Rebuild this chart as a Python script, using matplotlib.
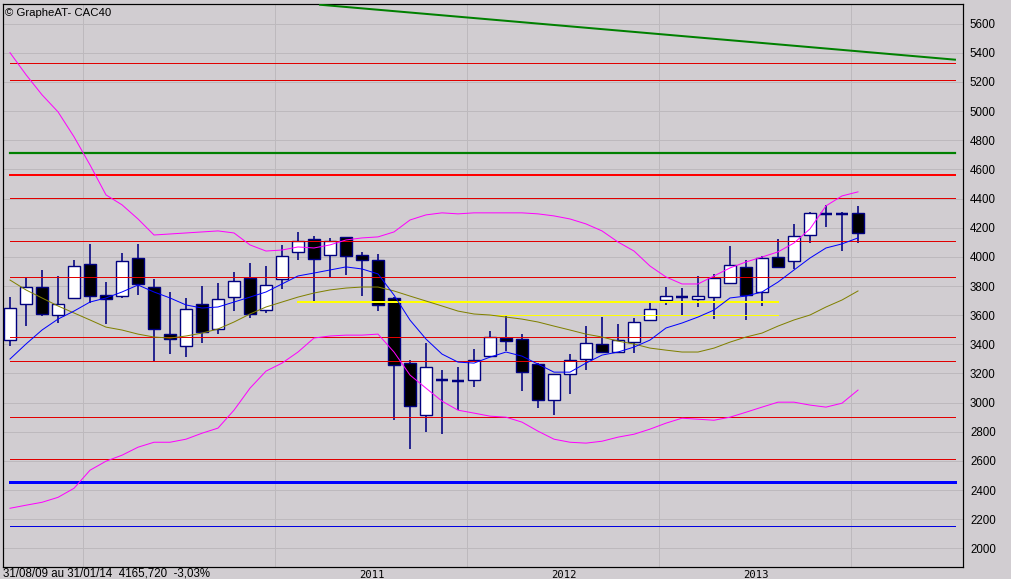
import matplotlib
matplotlib.use("Agg")
import matplotlib.pyplot as plt
import numpy as np

# ---------------- data (monthly CAC40, Aug 2009 -> Jan 2014) ----------------
months = [f"{y}-{m:02d}" for y in range(2009, 2015) for m in range(1, 13)]
months = months[months.index("2009-08"):months.index("2014-01") + 1]

opens = [3427, 3674, 3795, 3598, 3715, 3949, 3737, 3734, 3990, 3791, 3473, 3386, 3674, 3502,
         3722, 3855, 3633, 3846, 4031, 4121, 4011, 4134, 4011, 3976, 3715, 3269, 2912, 3158,
         3152, 3152, 3317, 3441, 3434, 3262, 3021, 3193, 3296, 3399, 3344, 3413, 3564, 3702,
         3729, 3708, 3727, 3823, 3928, 3757, 3997, 3970, 4148, 4299, 4292, 4304]
highs = [3727, 3857, 3910, 3866, 3979, 4089, 3828, 4027, 4089, 3848, 3757, 3718, 3800, 3818,
         3896, 3958, 3937, 4082, 4171, 4144, 4128, 4139, 4035, 4020, 3727, 3292, 3408, 3223,
         3241, 3367, 3491, 3594, 3468, 3273, 3193, 3333, 3525, 3587, 3539, 3578, 3686, 3793,
         3786, 3866, 3880, 4075, 3979, 4006, 4123, 4226, 4308, 4359, 4306, 4352]
lows = [3390, 3528, 3596, 3544, 3708, 3686, 3539, 3720, 3738, 3287, 3335, 3315, 3408, 3473,
        3631, 3583, 3617, 3782, 3979, 3686, 3862, 3878, 3734, 3626, 2884, 2685, 2799, 2786,
        2948, 3108, 3317, 3356, 3081, 2964, 2916, 3060, 3225, 3349, 3344, 3337, 3560, 3672,
        3601, 3658, 3576, 3816, 3569, 3665, 3928, 3915, 4098, 4208, 4043, 4093]
closes = [3647, 3791, 3605, 3674, 3935, 3734, 3708, 3970, 3811, 3502, 3438, 3640, 3486, 3708,
          3832, 3605, 3805, 4004, 4107, 3983, 4107, 4004, 3979, 3667, 3255, 2980, 3241, 3152,
          3148, 3294, 3450, 3420, 3207, 3015, 3193, 3289, 3406, 3349, 3427, 3550, 3640, 3729,
          3720, 3729, 3855, 3942, 3736, 3990, 3928, 4141, 4299, 4295, 4296, 4162]

ma_short = [3299, 3402, 3498, 3573, 3628, 3690, 3718, 3759, 3807, 3759, 3718, 3670, 3649, 3656,
            3690, 3724, 3759, 3814, 3869, 3889, 3910, 3931, 3917, 3883, 3738, 3566, 3436, 3333,
            3278, 3271, 3312, 3347, 3319, 3264, 3209, 3209, 3271, 3326, 3347, 3381, 3429, 3512,
            3546, 3587, 3635, 3718, 3731, 3759, 3827, 3910, 3992, 4061, 4089, 4130]
ma_long = [3841, 3773, 3718, 3663, 3615, 3567, 3518, 3498, 3470, 3450, 3443, 3457, 3477, 3505,
           3553, 3608, 3656, 3690, 3724, 3752, 3773, 3786, 3793, 3793, 3766, 3731, 3697, 3663,
           3628, 3608, 3601, 3587, 3573, 3553, 3525, 3498, 3470, 3450, 3422, 3402, 3374, 3360,
           3347, 3347, 3374, 3415, 3450, 3477, 3525, 3567, 3601, 3656, 3704, 3766]
bb_upper = [5401, 5250, 5112, 4995, 4824, 4631, 4425, 4357, 4260, 4150, 4157, 4164, 4171, 4178,
            4164, 4082, 4040, 4047, 4068, 4061, 4082, 4116, 4130, 4137, 4171, 4253, 4288, 4302,
            4295, 4302, 4302, 4302, 4302, 4295, 4281, 4260, 4226, 4178, 4102, 4040, 3937, 3862,
            3814, 3814, 3869, 3924, 3965, 3999, 4034, 4095, 4192, 4350, 4418, 4446]
bb_lower = [2275, 2296, 2316, 2350, 2412, 2536, 2598, 2639, 2694, 2728, 2728, 2749, 2790, 2825,
            2948, 3099, 3216, 3271, 3347, 3443, 3457, 3463, 3463, 3470, 3347, 3189, 3099, 3010,
            2948, 2928, 2907, 2900, 2866, 2804, 2749, 2728, 2722, 2735, 2763, 2783, 2818, 2859,
            2893, 2886, 2879, 2900, 2934, 2969, 3003, 3003, 2983, 2969, 2996, 3086]

red_levels = [5330, 5213, 4402, 4107, 3860, 3447, 3283, 2900, 2610]
red_thick_level = 4565
green_level = 4716
blue_thick_level = 2458
blue_thin_level = 2156
yellow_main = 3688
yellow_thin = 3599
trend_start = ("2011-03", 5730)   # green trend line start (month, value)
trend_end_value = 5353
year_labels = ["2011", "2012", "2013"]
grid_years = ["2010", "2011", "2012", "2013", "2014"]
y_ticks = list(range(2000, 5601, 200))

# ---------------- drawing ----------------
W, H = 1012, 579
BG = "#d1cdd1"
fig = plt.figure(figsize=(W / 100, H / 100), dpi=100, facecolor=BG)
ax = fig.add_axes([3 / W, 12 / H, 960 / W, 563 / H], facecolor=BG)

n = len(months)
x = np.arange(n)
px = 0.72  # points per pixel
line_end = n - 1 + 6.06

ax.set_xlim(-0.4375, n - 1 + 6.5625)
ax.set_ylim(1872, 5735)

# grid
grid_pos = [months.index(f"{y}-01") - 0.45 for y in grid_years]
for g in grid_pos:
    ax.axvline(g, color="#bdb9bd", lw=1 * px, zorder=0)
for yt in y_ticks:
    ax.axhline(yt, color="#bdb9bd", lw=1 * px, zorder=0)

# candles
navy = "#000080"
bw = 0.8
for i in range(n):
    o, h, l, c = opens[i], highs[i], lows[i], closes[i]
    ax.plot([x[i], x[i]], [l, h], color=navy, lw=1.6 * px, zorder=2, solid_capstyle="butt")
    lo, hi = min(o, c), max(o, c)
    if hi - lo < 15:
        ax.plot([x[i] - bw / 2, x[i] + bw / 2], [(o + c) / 2] * 2, color=navy, lw=2.5 * px,
                zorder=3, solid_capstyle="butt")
    else:
        face = "white" if c > o else "black"
        ax.add_patch(plt.Rectangle((x[i] - bw / 2, lo), bw, hi - lo, facecolor=face,
                                   edgecolor=navy, lw=1.4 * px, zorder=3))

# horizontal levels
for lv in red_levels:
    ax.plot([0, line_end], [lv, lv], color="#e00000", lw=1 * px, zorder=4)
ax.plot([0, line_end], [red_thick_level] * 2, color="#ff0000", lw=2 * px, zorder=4)
ax.plot([0, line_end], [green_level] * 2, color="#008000", lw=2.2 * px, zorder=4)
ax.plot([0, line_end], [blue_thick_level] * 2, color="#0000ff", lw=3 * px, zorder=4)
ax.plot([0, line_end], [blue_thin_level] * 2, color="#0000e0", lw=1 * px, zorder=4)

ax.plot([months.index("2011-02"), months.index("2013-08")], [yellow_main] * 2,
        color="#ffff00", lw=2 * px, zorder=4)
ax.plot([months.index("2012-02"), months.index("2013-08")], [yellow_thin] * 2,
        color="#ffff00", lw=1 * px, zorder=4)

ts = months.index(trend_start[0]) + 0.375
ax.plot([ts, line_end], [trend_start[1], trend_end_value], color="#008000", lw=2 * px, zorder=4)

# indicators
ax.plot(x, bb_upper, color="#ff00ff", lw=1 * px, zorder=5)
ax.plot(x, bb_lower, color="#ff00ff", lw=1 * px, zorder=5)
ax.plot(x, ma_long, color="#808000", lw=1 * px, zorder=5)
ax.plot(x, ma_short, color="#0000ff", lw=1 * px, zorder=5)

# axes styling
for s in ax.spines.values():
    s.set_color("black")
    s.set_linewidth(1.2 * px)
ax.yaxis.tick_right()
ax.set_yticks(y_ticks)
ax.set_yticklabels([str(v) for v in y_ticks], fontsize=8.3, family="Liberation Sans")
ax.tick_params(axis="y", length=0, pad=5)
ax.set_xticks([months.index(f"{y}-01") + 5.6 for y in year_labels])
ax.set_xticklabels(year_labels, fontsize=7.6, family="DejaVu Sans Mono")
ax.tick_params(axis="x", length=0, pad=2)

fig.text(5 / W, 1 - 13 / H, "\u00a9 GrapheAT- CAC40", fontsize=8.2, family="Liberation Sans",
         va="center", ha="left")
fig.text(3 / W, 1 - 573 / H, "31/08/09 au 31/01/14  4165,720  -3,03%", fontsize=8.3,
         family="Liberation Sans", va="center", ha="left")

fig.savefig("out.png", dpi=100, facecolor=BG)
